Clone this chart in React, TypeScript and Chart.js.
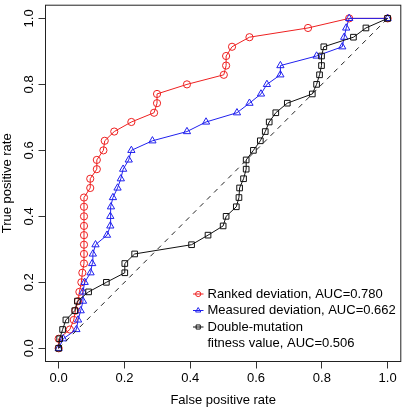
import React, { useEffect, useRef } from "react";
import { Chart, registerables } from "chart.js";
import { drawPoint } from "chart.js/helpers";

Chart.register(...registerables);

const tickValues = [0, 0.2, 0.4, 0.6, 0.8, 1.0];
const tickLabels = ["0.0", "0.2", "0.4", "0.6", "0.8", "1.0"];

const rankedFpr = [0, 0, 0.034, 0.046, 0.051, 0.059, 0.063, 0.069, 0.072, 0.077, 0.077, 0.077, 0.077, 0.077, 0.077, 0.077, 0.077, 0.096, 0.096, 0.116, 0.116, 0.136, 0.14, 0.169, 0.221, 0.29, 0.299, 0.299, 0.39, 0.502, 0.509, 0.509, 0.527, 0.58, 0.758, 0.883, 1.0];
const rankedTpr = [0, 0.029, 0.057, 0.086, 0.114, 0.143, 0.171, 0.2, 0.229, 0.257, 0.286, 0.314, 0.343, 0.371, 0.4, 0.429, 0.457, 0.486, 0.514, 0.543, 0.571, 0.6, 0.629, 0.657, 0.686, 0.714, 0.743, 0.771, 0.8, 0.829, 0.857, 0.886, 0.914, 0.943, 0.971, 1.0, 1.0];

const measuredFpr = [0, 0.014, 0.054, 0.059, 0.067, 0.074, 0.074, 0.079, 0.097, 0.102, 0.104, 0.112, 0.147, 0.157, 0.157, 0.159, 0.165, 0.179, 0.189, 0.196, 0.213, 0.221, 0.285, 0.39, 0.448, 0.542, 0.58, 0.615, 0.633, 0.674, 0.674, 0.784, 0.862, 0.868, 0.874, 0.883, 1.0];
const measuredTpr = [0, 0.029, 0.057, 0.086, 0.114, 0.143, 0.171, 0.2, 0.229, 0.257, 0.286, 0.314, 0.343, 0.371, 0.4, 0.429, 0.457, 0.486, 0.514, 0.543, 0.571, 0.6, 0.629, 0.657, 0.686, 0.714, 0.743, 0.771, 0.8, 0.829, 0.857, 0.886, 0.914, 0.943, 0.971, 1.0, 1.0];

const fitnessFpr = [0, 0.003, 0.012, 0.022, 0.049, 0.057, 0.091, 0.145, 0.201, 0.201, 0.231, 0.404, 0.454, 0.5, 0.509, 0.54, 0.548, 0.55, 0.562, 0.57, 0.57, 0.592, 0.613, 0.628, 0.64, 0.66, 0.695, 0.771, 0.784, 0.793, 0.799, 0.799, 0.806, 0.896, 0.934, 1.0];
const fitnessTpr = [0, 0.029, 0.057, 0.086, 0.114, 0.143, 0.171, 0.2, 0.229, 0.257, 0.286, 0.314, 0.343, 0.371, 0.4, 0.429, 0.457, 0.486, 0.514, 0.543, 0.571, 0.6, 0.629, 0.657, 0.686, 0.714, 0.743, 0.771, 0.8, 0.829, 0.857, 0.886, 0.914, 0.943, 0.971, 1.0];

const diagX = [0, 1];
const diagY = [0, 1];

const legendLabels = [
  ["Ranked deviation, AUC=0.780"],
  ["Measured deviation, AUC=0.662"],
  ["Double-mutation", "fitness value, AUC=0.506"],
];

const RED = "#ee2020";
const BLUE = "#2020ee";
const BLACK = "#111111";
const FONT = "'Liberation Sans', Arial, Helvetica, sans-serif";

const toPts = (xs: number[], ys: number[]) => xs.map((x, i) => ({ x, y: ys[i] }));

const styles = [
  { color: RED, pointStyle: "circle", radius: 3.6, legendRadius: 2.6 },
  { color: BLUE, pointStyle: "triangle", radius: 4.2, legendRadius: 3.0 },
  { color: BLACK, pointStyle: "rect", radius: 4.0, legendRadius: 2.9 },
];

const overlayPlugin = {
  id: "overlay",
  afterDraw(chart: any) {
    const ctx = chart.ctx;
    const area = chart.chartArea;
    const yScale = chart.scales.y;
    ctx.save();
    // box
    ctx.strokeStyle = "#222";
    ctx.lineWidth = 1;
    ctx.strokeRect(area.left, area.top, area.right - area.left, area.bottom - area.top);
    // rotated y tick labels
    ctx.fillStyle = "#000";
    ctx.font = `13px ${FONT}`;
    ctx.textAlign = "center";
    ctx.textBaseline = "middle";
    tickValues.forEach((v, i) => {
      const py = yScale.getPixelForValue(v);
      ctx.save();
      ctx.translate(29.5, py);
      ctx.rotate(-Math.PI / 2);
      ctx.fillText(tickLabels[i], 0, 0);
      ctx.restore();
    });
    // legend
    const rows = [294, 310.5, 327];
    ctx.textAlign = "left";
    legendLabels.forEach((lines, i) => {
      const y = rows[i];
      const st = styles[i];
      ctx.strokeStyle = st.color;
      ctx.lineWidth = 1;
      ctx.beginPath();
      ctx.moveTo(193, y);
      ctx.lineTo(203.5, y);
      ctx.stroke();
      ctx.fillStyle = "rgba(0,0,0,0)";
      drawPoint(ctx, { pointStyle: st.pointStyle, radius: st.legendRadius, rotation: 0, borderWidth: 1 } as any, 198.2, y);
      ctx.fillStyle = "#000";
      lines.forEach((t, j) => {
        ctx.fillText(t, 207.5, y + j * 16.8);
      });
    });
    ctx.restore();
  },
};

export default function App() {
  const ref = useRef<HTMLCanvasElement | null>(null);
  useEffect(() => {
    if (!ref.current) return;
    const mk = (label: string, xs: number[], ys: number[], i: number, order: number) => ({
      label,
      data: toPts(xs, ys),
      showLine: true,
      borderColor: styles[i].color,
      borderWidth: 1,
      backgroundColor: "rgba(0,0,0,0)",
      pointBackgroundColor: "rgba(0,0,0,0)",
      pointBorderColor: styles[i].color,
      pointBorderWidth: 1,
      pointStyle: styles[i].pointStyle,
      pointRadius: styles[i].radius,
      tension: 0,
      order,
    });
    const chart = new Chart(ref.current, {
      type: "scatter",
      data: {
        datasets: [
          {
            label: "diagonal",
            data: toPts(diagX, diagY),
            showLine: true,
            borderColor: "#222",
            borderWidth: 1,
            borderDash: [5, 5],
            pointRadius: 0,
            order: 0,
          } as any,
          mk("Double-mutation fitness value", fitnessFpr, fitnessTpr, 2, 1),
          mk("Measured deviation", measuredFpr, measuredTpr, 1, 2),
          mk("Ranked deviation", rankedFpr, rankedTpr, 0, 3),
        ],
      },
      options: {
        responsive: false,
        animation: false,
        devicePixelRatio: 1,
        layout: { padding: { top: 0.5, right: 1.5, left: 0, bottom: 0 } },
        plugins: { legend: { display: false }, tooltip: { enabled: false } },
        scales: {
          x: {
            type: "linear",
            min: -0.04,
            max: 1.04,
            afterBuildTicks: (s: any) => {
              s.ticks = tickValues.map((v) => ({ value: v }));
            },
            afterFit: (s: any) => {
              s.height = 46.5;
            },
            ticks: {
              callback: (_v: any, i: number) => tickLabels[i],
              font: { family: FONT, size: 13 },
              color: "#000",
              padding: 2.5,
              maxRotation: 0,
              autoSkip: false,
            },
            grid: { drawOnChartArea: false, drawTicks: true, tickLength: 7, color: "#333" },
            border: { display: false },
            title: {
              display: true,
              text: "False positive rate",
              font: { family: FONT, size: 13 },
              color: "#000",
              padding: { top: 0, bottom: 0 },
            },
          },
          y: {
            type: "linear",
            min: -0.04,
            max: 1.04,
            afterBuildTicks: (s: any) => {
              s.ticks = tickValues.map((v) => ({ value: v }));
            },
            afterFit: (s: any) => {
              s.width = 45.5;
            },
            ticks: { display: false },
            grid: { drawOnChartArea: false, drawTicks: true, tickLength: 7, color: "#333" },
            border: { display: false },
            title: {
              display: true,
              text: "True positive rate",
              font: { family: FONT, size: 13 },
              color: "#000",
              padding: { top: 0, bottom: 0 },
            },
          },
        },
      },
      plugins: [overlayPlugin],
    } as any);
    return () => chart.destroy();
  }, []);
  return (
    <div style={{ position: "absolute", left: 0, top: 0, width: 406, height: 408, background: "#fff" }}>
      <canvas ref={ref} width={406} height={408} style={{ display: "block" }} />
    </div>
  );
}
